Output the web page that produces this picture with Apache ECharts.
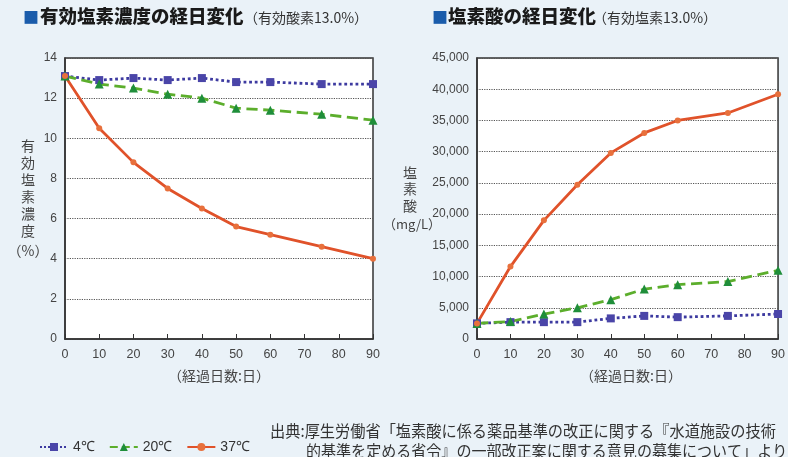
<!DOCTYPE html>
<html>
<head>
<meta charset="utf-8">
<script src="https://cdn.jsdelivr.net/npm/echarts@6/dist/echarts.min.js"></script>
<style>
  html, body { margin: 0; padding: 0; background: #eaf2f8; }
  #chart { width: 788px; height: 457px; }
</style>
</head>
<body>
<div id="chart"></div>
<script>
// Elapsed days at each measurement
const days = [0, 10, 20, 30, 40, 50, 60, 75, 90];

// Available chlorine concentration (%) by storage temperature
const conc4 = [13.1, 12.9, 13.0, 12.9, 13.0, 12.8, 12.8, 12.7, 12.7];
const conc20 = [13.1, 12.7, 12.5, 12.2, 12.0, 11.5, 11.4, 11.2, 10.9];
const conc37 = [13.1, 10.5, 8.8, 7.5, 6.5, 5.6, 5.2, 4.6, 4.0];

// Chlorate (mg/L) by storage temperature
const chlorate4 = [2500, 2700, 2700, 2700, 3300, 3700, 3500, 3700, 4000];
const chlorate20 = [2500, 2800, 4000, 5000, 6300, 8000, 8700, 9200, 11000];
const chlorate37 = [2500, 11600, 19000, 24700, 29800, 33000, 35000, 36200, 39200];

const seriesNames = ['4℃', '20℃', '37℃'];

const pairs = (vals) => days.map((d, i) => [d, vals[i]]);

const CJK = '"Noto Sans CJK JP", "Noto Sans", sans-serif';
const NUM = '"Liberation Sans", Arial, sans-serif';

const styles = [
  { color: '#4a45a8', line: '#3d3aa0', type: 'dotted', symbol: 'rect', size: 8 },
  { color: '#1f8e3a', line: '#5cae2c', type: 'dashed', symbol: 'triangle', size: 9 },
  { color: '#e8703c', line: '#e0522a', type: 'solid', symbol: 'circle', size: 6 }
];

function makeSeries(name, data, idx, st) {
  return {
    name: name,
    type: 'line',
    xAxisIndex: idx,
    yAxisIndex: idx,
    data: pairs(data),
    symbol: st.symbol,
    symbolSize: st.size,
    itemStyle: { color: st.color },
    lineStyle: { color: st.line, width: 2.8, type: st.type },
    z: 3
  };
}

function xAxis(gridIndex) {
  return {
    type: 'value', gridIndex: gridIndex, min: 0, max: 90, interval: 10,
    axisLine: { show: true, lineStyle: { color: '#333', width: 1.5 } },
    axisTick: { show: true, inside: true, length: 5, lineStyle: { color: '#333' } },
    axisLabel: { color: '#444', fontSize: 12.5, fontFamily: NUM, margin: 9 },
    splitLine: { show: false }
  };
}

function yAxis(gridIndex, max, interval, fmt) {
  return {
    type: 'value', gridIndex: gridIndex, min: 0, max: max, interval: interval,
    axisLine: { show: true, lineStyle: { color: '#333', width: 1.5 } },
    axisTick: { show: false },
    axisLabel: { color: '#444', fontSize: 12, fontFamily: NUM, margin: 8, formatter: fmt },
    splitLine: { show: true, lineStyle: { color: '#555', type: 'dotted', width: 1.2 } }
  };
}

const chart = echarts.init(document.getElementById('chart'));

chart.setOption({
  backgroundColor: '#eaf2f8',
  animation: false,
  grid: [
    { left: 65, top: 58, width: 308, height: 281, show: true, backgroundColor: '#ffffff', borderColor: '#333', borderWidth: 1.5 },
    { left: 477, top: 58, width: 309, height: 281, show: true, backgroundColor: '#ffffff', borderColor: '#333', borderWidth: 1.5 }
  ],
  xAxis: [xAxis(0), xAxis(1)],
  yAxis: [
    yAxis(0, 14, 2, (v) => String(v)),
    yAxis(1, 45000, 5000, (v) => v.toLocaleString('en-US'))
  ],
  legend: {
    data: seriesNames,
    left: 34, top: 435,
    itemWidth: 28, itemHeight: 10, itemGap: 14,
    textStyle: { color: '#333', fontSize: 14, fontFamily: NUM }
  },
  series: [
    makeSeries(seriesNames[0], conc4, 0, styles[0]),
    makeSeries(seriesNames[1], conc20, 0, styles[1]),
    makeSeries(seriesNames[2], conc37, 0, styles[2]),
    makeSeries(seriesNames[0], chlorate4, 1, styles[0]),
    makeSeries(seriesNames[1], chlorate20, 1, styles[1]),
    makeSeries(seriesNames[2], chlorate37, 1, styles[2])
  ],
  graphic: [
    // Panel titles
    { type: 'text', left: 23, top: 9, style: { text: '■', fill: '#1a5cab', font: 'bold 16px ' + CJK } },
    { type: 'text', left: 40, top: 7, style: { text: '有効塩素濃度の経日変化', fill: '#1a1a1a', font: '900 18.5px ' + CJK } },
    { type: 'text', left: 244, top: 11, style: { text: '（有効酸素13.0%）', fill: '#333', font: '14px ' + CJK } },
    { type: 'text', left: 432, top: 9, style: { text: '■', fill: '#1a5cab', font: 'bold 16px ' + CJK } },
    { type: 'text', left: 448, top: 7, style: { text: '塩素酸の経日変化', fill: '#1a1a1a', font: '900 18.5px ' + CJK } },
    { type: 'text', left: 593, top: 11, style: { text: '（有効塩素13.0%）', fill: '#333', font: '14px ' + CJK } },

    // Y-axis names (vertical)
    { type: 'text', x: 28, y: 137, style: { text: '有\n効\n塩\n素\n濃\n度', fill: '#444', font: '14px ' + CJK, align: 'center', lineHeight: 17 } },
    { type: 'text', x: 28, y: 244, style: { text: '（%）', fill: '#444', font: '14px ' + CJK, align: 'center' } },
    { type: 'text', x: 410, y: 164, style: { text: '塩\n素\n酸', fill: '#444', font: '14px ' + CJK, align: 'center', lineHeight: 16.5 } },
    { type: 'text', x: 412, y: 218, style: { text: '（mg/L）', fill: '#444', font: '13px ' + CJK, align: 'center' } },

    // X-axis names
    { type: 'text', x: 219, y: 369, style: { text: '（経過日数:日）', fill: '#444', font: '14px ' + CJK, align: 'center' } },
    { type: 'text', x: 631, y: 369, style: { text: '（経過日数:日）', fill: '#444', font: '14px ' + CJK, align: 'center' } },

    // Source note
    { type: 'text', x: 270, y: 423, scaleX: 0.95, style: { text: '出典:厚生労働省「塩素酸に係る薬品基準の改正に関する『水道施設の技術', fill: '#333', font: '16px ' + CJK } },
    { type: 'text', x: 306, y: 443, scaleX: 0.94, style: { text: '的基準を定める省令』の一部改正案に関する意見の募集について」より', fill: '#333', font: '16px ' + CJK } }
  ]
});
</script>
</body>
</html>
